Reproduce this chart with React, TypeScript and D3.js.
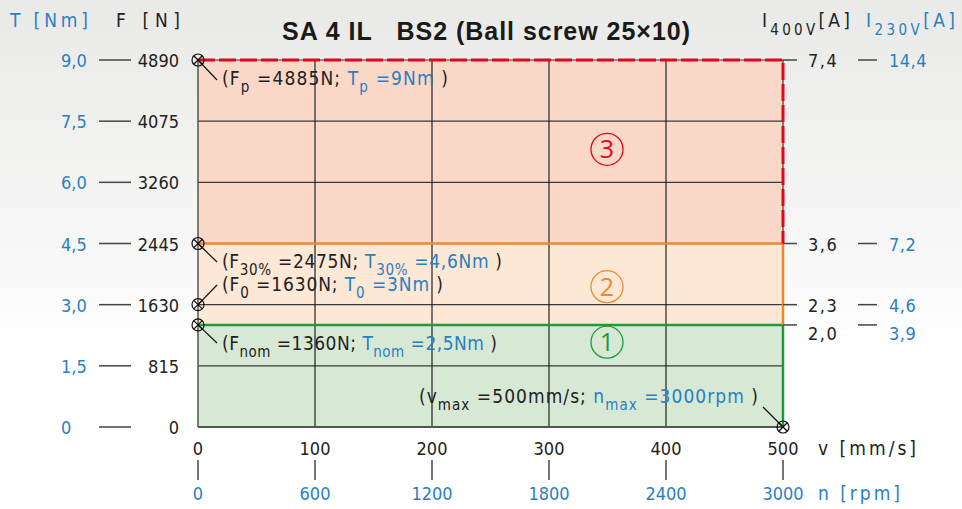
import React from "react";
import * as d3 from "d3";

// Values
const forceTicks = [0, 815, 1630, 2445, 3260, 4075, 4890];
const torqueTicks = ["0", "1,5", "3,0", "4,5", "6,0", "7,5", "9,0"];
const speedTicks = [0, 100, 200, 300, 400, 500];
const rpmTicks = [0, 600, 1200, 1800, 2400, 3000];
const currentForces = [4890, 2445, 1630, 1360];
const current400 = ["7,4", "3,6", "2,3", "2,0"];
const current230 = ["14,4", "7,2", "4,6", "3,9"];
const zoneBounds = [0, 1360, 2445, 4890];
const zoneNames = ["1", "2", "3"];
const markerPoints = [
  [0, 4890],
  [0, 2445],
  [0, 1630],
  [0, 1360],
  [500, 0],
];

const W = 962;
const H = 509;
const BLUE = "#2a7fc1";
const INK = "#222";
const FONT = "'DejaVu Sans Condensed', 'DejaVu Sans', sans-serif";
const zoneFill = ["#d7e9d5", "#fde7d5", "#f9d8c8"];
const zoneStroke = ["#1c9a3e", "#f0872c", "#e2061c"];
const zoneLabelF = [1130, 1870, 3700];

const x = d3.scaleLinear().domain([0, 500]).range([198, 783]);
const xr = d3.scaleLinear().domain([0, 3000]).range([198, 783]);
const y = d3.scaleLinear().domain([0, 4890]).range([427, 60]);

function Marker({ cx, cy }: { cx: number; cy: number }) {
  const r = 6;
  const d = r * 0.707;
  return (
    <g stroke="#111" strokeWidth={1.2} fill="none">
      <circle cx={cx} cy={cy} r={r} />
      <line x1={cx - d} y1={cy - d} x2={cx + d} y2={cy + d} />
      <line x1={cx - d} y1={cy + d} x2={cx + d} y2={cy - d} />
    </g>
  );
}

// pair of F / T annotation text with subscripts
function Note({ tx, ty, len, sub, f, t }: { tx: number; ty: number; len: number; sub: string; f: string; t: string }) {
  return (
    <text x={tx} y={ty} fontSize={19} fontFamily={FONT} fill={INK} textLength={len} lengthAdjust="spacing">
      (F<tspan fontSize={15} dy={7}>{sub}</tspan>
      <tspan dy={-7}>{" =" + f + "N; "}</tspan>
      <tspan fill={BLUE}>T</tspan>
      <tspan fill={BLUE} fontSize={15} dy={7}>{sub}</tspan>
      <tspan fill={BLUE} dy={-7}>{" =" + t + "Nm "}</tspan>
      <tspan>{")"}</tspan>
    </text>
  );
}

function Label({ tx, ty, len, fill, children }: { tx: number; ty: number; len: number; fill: string; children: React.ReactNode }) {
  return (
    <text x={tx} y={ty} fontSize={19} fontFamily={FONT} fill={fill} textLength={len} lengthAdjust="spacing">
      {children}
    </text>
  );
}

export default function App() {
  const x0 = x(0);
  const x1 = x(500);
  return (
    <svg width={W} height={H} style={{ position: "absolute", left: 0, top: 0 }}>
      <defs>
        <linearGradient id="bg" x1="0" y1="0" x2="0" y2="1">
          <stop offset="0" stopColor="#e9e9e7" />
          <stop offset="0.55" stopColor="#f9f9f9" />
          <stop offset="0.68" stopColor="#ffffff" />
        </linearGradient>
      </defs>
      <rect width={W} height={H} fill="url(#bg)" />

      {/* zones */}
      {zoneNames.map((n, i) => (
        <rect
          key={"z" + n}
          x={x0}
          y={y(zoneBounds[i + 1])}
          width={x1 - x0}
          height={y(zoneBounds[i]) - y(zoneBounds[i + 1])}
          fill={zoneFill[i]}
        />
      ))}

      {/* grid */}
      {forceTicks.slice(1).map((f) => (
        <line key={"gh" + f} x1={x0} x2={x1} y1={y(f)} y2={y(f)} stroke="#3a3a3a" strokeWidth={1.2} />
      ))}
      {speedTicks.slice(1, -1).map((v) => (
        <line key={"gv" + v} x1={x(v)} x2={x(v)} y1={y(0)} y2={y(4890)} stroke="#222" strokeWidth={1.2} />
      ))}
      <line x1={x0} x2={x0} y1={y(0)} y2={y(4890)} stroke="#555" strokeWidth={1.5} />
      <line x1={x1} x2={x1} y1={y(0)} y2={y(4890)} stroke="#333" strokeWidth={1.2} />
      <line x1={x0} x2={x1} y1={y(0)} y2={y(0)} stroke="#555" strokeWidth={2} />

      {/* zone boundary lines */}
      <line x1={x0} x2={x1} y1={y(1360)} y2={y(1360)} stroke={zoneStroke[0]} strokeWidth={2.5} />
      <line x1={x1} x2={x1} y1={y(0)} y2={y(1360)} stroke={zoneStroke[0]} strokeWidth={2.5} />
      <line x1={x0} x2={x1} y1={y(2445)} y2={y(2445)} stroke={zoneStroke[1]} strokeWidth={2.5} />
      <line x1={x1} x2={x1} y1={y(1360)} y2={y(2445)} stroke={zoneStroke[1]} strokeWidth={2.5} />
      <path
        d={`M${x0},${y(4890)}H${x1}V${y(2445)}`}
        fill="none"
        stroke={zoneStroke[2]}
        strokeWidth={3}
        strokeDasharray="17 4"
      />

      {/* circled zone numbers */}
      {zoneNames.map((n, i) => (
        <g key={"c" + n}>
          <circle cx={607} cy={y(zoneLabelF[i])} r={16} fill="none" stroke={zoneStroke[i]} strokeWidth={1.3} />
          <text
            x={607}
            y={y(zoneLabelF[i]) + 9}
            textAnchor="middle"
            fontSize={25}
            fontFamily="'Open Sans', sans-serif"
            fill={zoneStroke[i]}
          >
            {n}
          </text>
        </g>
      ))}

      {/* left axes */}
      <Label tx={10} ty={27} len={78} fill={BLUE}>T [Nm]</Label>
      <Label tx={116} ty={27} len={64} fill={INK}>F [N]</Label>
      {forceTicks.map((f, i) => (
        <g key={"lf" + f}>
          <text x={61} y={y(f) + 7} fontSize={18} fontFamily={FONT} fill={BLUE}>{torqueTicks[i]}</text>
          <line x1={99} x2={131} y1={y(f)} y2={y(f)} stroke="#444" strokeWidth={1.5} />
          <text x={179} y={y(f) + 7} textAnchor="end" fontSize={18} fontFamily={FONT} fill={INK}>{f}</text>
        </g>
      ))}

      {/* right axes */}
      <Label tx={762} ty={27} len={88} fill={INK}>
        I<tspan fontSize={15} dy={8}>400V</tspan><tspan dy={-8}>[A]</tspan>
      </Label>
      <Label tx={866} ty={27} len={89} fill={BLUE}>
        I<tspan fontSize={15} dy={8}>230V</tspan><tspan dy={-8}>[A]</tspan>
      </Label>
      {currentForces.map((f, i) => {
        const shift = i === 3 ? 8 : 0;
        return (
          <g key={"rf" + f}>
            <line x1={x1} x2={797} y1={y(f)} y2={y(f)} stroke="#444" strokeWidth={1.5} />
            <text x={808} y={y(f) + 7 + shift} fontSize={18} fontFamily={FONT} fill={INK} letterSpacing={1.5}>{current400[i]}</text>
            <line x1={858} x2={877} y1={y(f)} y2={y(f)} stroke="#444" strokeWidth={1.5} />
            <text x={889} y={y(f) + 7 + shift} fontSize={18} fontFamily={FONT} fill={BLUE} letterSpacing={0.5}>{current230[i]}</text>
          </g>
        );
      })}

      {/* bottom axes */}
      {speedTicks.map((v, i) => (
        <g key={"b" + v}>
          <text x={x(v)} y={455} textAnchor="middle" fontSize={18} fontFamily={FONT} fill={INK}>{v}</text>
          <line x1={x(v)} x2={x(v)} y1={460} y2={480} stroke="#444" strokeWidth={1.5} />
          <text x={xr(rpmTicks[i])} y={500} textAnchor="middle" fontSize={18} fontFamily={FONT} fill={BLUE}>{rpmTicks[i]}</text>
        </g>
      ))}
      <Label tx={818} ty={455} len={98} fill={INK}>v [mm/s]</Label>
      <Label tx={818} ty={500} len={82} fill={BLUE}>n [rpm]</Label>

      {/* annotations */}
      <line x1={x0} y1={y(4890)} x2={217} y2={80} stroke="#111" strokeWidth={1.2} />
      <Note tx={222} ty={85} len={226} sub="p" f="4885" t="9" />
      <line x1={x0} y1={y(2445)} x2={217} y2={262} stroke="#111" strokeWidth={1.2} />
      <Note tx={222} ty={268} len={280} sub="30%" f="2475" t="4,6" />
      <line x1={x0} y1={y(1630)} x2={217} y2={285} stroke="#111" strokeWidth={1.2} />
      <Note tx={222} ty={291} len={221} sub="0" f="1630" t="3" />
      <line x1={x0} y1={y(1360)} x2={217} y2={343} stroke="#111" strokeWidth={1.2} />
      <Note tx={222} ty={350} len={275} sub="nom" f="1360" t="2,5" />
      <line x1={x1} y1={y(0)} x2={763} y2={407} stroke="#111" strokeWidth={1.2} />
      <text x={419} y={403} fontSize={19} fontFamily={FONT} fill={INK} textLength={339} lengthAdjust="spacing">
        (v<tspan fontSize={15} dy={7}>max</tspan>
        <tspan dy={-7}> =500mm/s; </tspan>
        <tspan fill={BLUE}>n</tspan>
        <tspan fill={BLUE} fontSize={15} dy={7}>max</tspan>
        <tspan fill={BLUE} dy={-7}> =3000rpm </tspan>
        <tspan>)</tspan>
      </text>

      {markerPoints.map(([v, f]) => (
        <Marker key={"m" + v + "_" + f} cx={x(v)} cy={y(f)} />
      ))}

      {/* title */}
      <text
        x={282}
        y={40}
        fontSize={25}
        fontWeight="bold"
        fontFamily="'Liberation Sans', Arial, sans-serif"
        fill="#1a1a1a"
        textLength={408}
        lengthAdjust="spacing"
      >
        SA 4 IL{"\u00a0\u00a0\u00a0"}BS2 (Ball screw 25×10)
      </text>
    </svg>
  );
}
